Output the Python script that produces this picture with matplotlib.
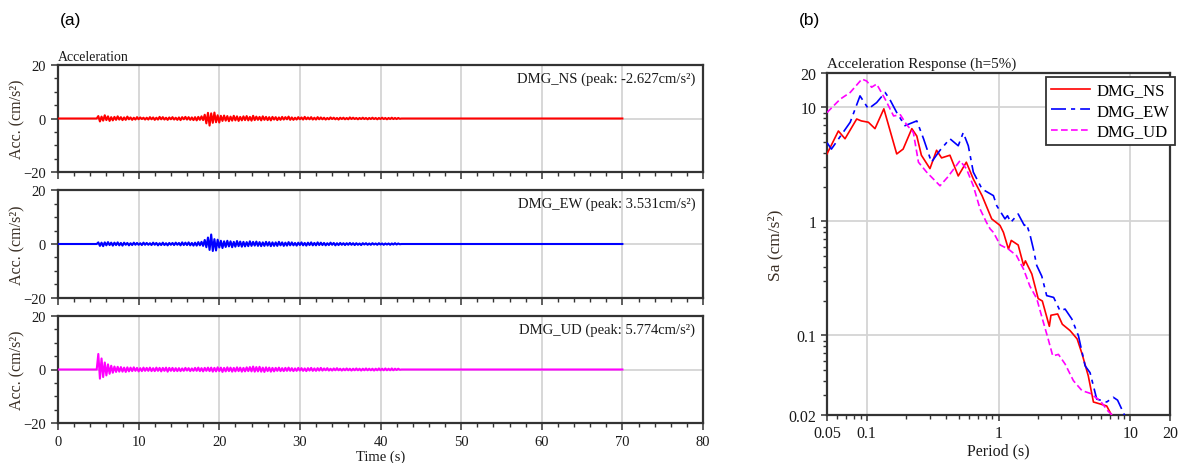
import numpy as np
import matplotlib
matplotlib.use("Agg")
import matplotlib.pyplot as plt
from matplotlib.ticker import (MultipleLocator, FixedLocator, FixedFormatter,
                               NullFormatter, LogLocator)

plt.rcParams['font.family'] = ['Liberation Serif', 'DejaVu Serif']

# ---------------- acceleration records (cm/s^2), 0.2 s step starting at 5.0 s ----------------
DT = 0.2
T_ONSET = 5.0
T_END = 70.0

acc_ns = [
    0.9, -1.1, 0.7, -0.8, 1.2, -0.6, 0.8, -0.9, 0.5, -0.7,
    0.6, -0.5, 0.8, -0.4, 0.5, -0.6, 0.4, -0.5, 0.7, -0.3,
    0.4, -0.5, 0.3, -0.4, 0.5, -0.3, 0.4, -0.2, 0.3, -0.4,
    0.3, -0.4, 0.5, -0.3, 0.4, -0.5, 0.3, -0.4, 0.6, -0.3,
    0.5, -0.4, 0.3, -0.5, 0.4, -0.3, 0.5, -0.4, 0.3, -0.5,
    0.4, -0.6, 0.5, -0.3, 0.6, -0.4, 0.5, -0.5, 0.4, -0.6,
    0.5, -0.7, 0.6, -0.5, 0.8, -0.6, 1.4, -1.8, 2.1, -2.627,
    1.9, -1.6, 2.2, -1.4, 1.2, -1.5, 1.0, -0.9, 1.1, -0.8,
    0.9, -1.0, 0.7, -0.8, 1.0, -0.7, 0.8, -0.9, 0.6, -0.7,
    0.8, -0.6, 0.9, -0.7, 0.6, -0.8, 1.0, -0.6, 0.7, -0.5,
    0.6, -0.7, 0.8, -0.5, 0.6, -0.6, 0.5, -0.7, 0.6, -0.4,
    0.5, -0.6, 0.4, -0.5, 0.6, -0.4, 0.5, -0.3, 0.7, -0.5,
    0.4, -0.5, 0.3, -0.4, 0.5, -0.3, 0.4, -0.4, 0.6, -0.3,
    0.4, -0.3, 0.5, -0.4, 0.3, -0.4, 0.5, -0.3, 0.4, -0.3,
    0.3, -0.4, 0.2, -0.3, 0.4, -0.2, 0.3, -0.3, 0.2, -0.4,
    0.3, -0.2, 0.3, -0.3, 0.2, -0.3, 0.4, -0.2, 0.3, -0.2,
    0.2, -0.3, 0.2, -0.2, 0.3, -0.2, 0.2, -0.3, 0.2, -0.2,
    0.3, -0.2, 0.2, -0.3, 0.2, -0.2, 0.3, -0.2, 0.2, -0.3,
    0.2, -0.2, 0.3, -0.2, 0.2, -0.2, 0.2, -0.1,
]

acc_ew = [
    0.6, -0.7, 0.5, -0.8, 0.6, -0.5, 0.7, -0.4, 0.5, -0.6,
    0.5, -0.4, 0.6, -0.5, 0.4, -0.6, 0.5, -0.3, 0.4, -0.5,
    0.3, -0.4, 0.5, -0.3, 0.4, -0.3, 0.3, -0.4, 0.5, -0.3,
    0.4, -0.3, 0.3, -0.4, 0.5, -0.3, 0.4, -0.5, 0.3, -0.4,
    0.5, -0.4, 0.3, -0.5, 0.4, -0.3, 0.4, -0.4, 0.5, -0.3,
    0.4, -0.5, 0.6, -0.4, 0.5, -0.4, 0.6, -0.5, 0.4, -0.6,
    0.5, -0.6, 0.7, -0.5, 0.8, -0.7, 1.5, -1.2, 2.4, -2.2,
    3.531, -2.6, 1.8, -2.4, 1.6, -1.3, 1.2, -1.5, 1.0, -1.1,
    1.2, -0.9, 1.0, -1.2, 0.8, -1.0, 1.1, -0.8, 0.9, -1.0,
    0.8, -0.9, 0.7, -0.8, 1.0, -0.7, 0.8, -0.6, 0.9, -0.7,
    0.7, -0.8, 0.6, -0.7, 0.8, -0.6, 0.7, -0.8, 0.6, -0.7,
    0.6, -0.7, 0.8, -0.5, 0.6, -0.7, 0.5, -0.6, 0.7, -0.5,
    0.6, -0.5, 0.4, -0.6, 0.5, -0.4, 0.6, -0.5, 0.4, -0.6,
    0.5, -0.4, 0.6, -0.5, 0.4, -0.5, 0.6, -0.4, 0.5, -0.4,
    0.4, -0.5, 0.3, -0.4, 0.5, -0.3, 0.4, -0.5, 0.3, -0.4,
    0.4, -0.3, 0.3, -0.4, 0.3, -0.3, 0.4, -0.3, 0.3, -0.4,
    0.3, -0.3, 0.2, -0.4, 0.3, -0.2, 0.3, -0.3, 0.2, -0.3,
    0.3, -0.2, 0.2, -0.3, 0.3, -0.2, 0.2, -0.3, 0.2, -0.2,
    0.2, -0.3, 0.2, -0.2, 0.3, -0.2, 0.2, -0.1,
]

acc_ud = [
    5.774, -3.4, 4.1, -2.8, 2.6, -2.2, 1.9, -1.6, 1.4, -1.2,
    1.1, -0.9, 1.0, -0.8, 0.9, -0.8, 0.7, -0.9, 0.8, -0.7,
    0.7, -0.6, 0.8, -0.5, 0.6, -0.7, 0.5, -0.6, 0.7, -0.5,
    0.6, -0.5, 0.7, -0.6, 0.5, -0.6, 0.7, -0.5, 0.6, -0.7,
    0.6, -0.5, 0.7, -0.8, 0.6, -0.5, 0.6, -0.6, 0.5, -0.6,
    0.5, -0.6, 0.4, -0.5, 0.6, -0.4, 0.5, -0.6, 0.4, -0.5,
    0.6, -0.5, 0.7, -0.6, 0.5, -0.7, 0.6, -0.5, 0.7, -0.6,
    0.7, -0.8, 0.6, -0.7, 0.8, -0.6, 0.7, -0.9, 0.6, -0.7,
    0.8, -0.6, 0.7, -0.8, 0.6, -0.7, 0.8, -0.6, 0.7, -0.8,
    0.6, -0.7, 0.8, -0.6, 0.9, -0.7, 1.1, -0.8, 0.9, -0.7,
    1.0, -0.8, 0.7, -0.9, 0.8, -0.6, 0.7, -0.8, 0.6, -0.7,
    0.6, -0.5, 0.7, -0.6, 0.5, -0.6, 0.6, -0.5, 0.7, -0.5,
    0.5, -0.6, 0.4, -0.5, 0.6, -0.4, 0.5, -0.5, 0.4, -0.6,
    0.5, -0.4, 0.6, -0.5, 0.4, -0.5, 0.5, -0.4, 0.6, -0.4,
    0.4, -0.3, 0.5, -0.4, 0.3, -0.4, 0.4, -0.3, 0.5, -0.3,
    0.3, -0.4, 0.3, -0.3, 0.4, -0.3, 0.3, -0.4, 0.3, -0.3,
    0.4, -0.3, 0.3, -0.4, 0.3, -0.3, 0.4, -0.3, 0.3, -0.3,
    0.3, -0.4, 0.3, -0.3, 0.4, -0.3, 0.3, -0.3, 0.4, -0.3,
    0.3, -0.3, 0.4, -0.3, 0.3, -0.2, 0.3, -0.1,
]

record_names = ["DMG_NS", "DMG_EW", "DMG_UD"]
record_peaks = ["-2.627", "3.531", "5.774"]
record_colors = ["#ff0000", "#0000ff", "#ff00ff"]
records = [acc_ns, acc_ew, acc_ud]

# ---------------- acceleration response spectra, h = 5% ----------------
period_ns = [0.05, 0.061, 0.0685, 0.084, 0.091, 0.103, 0.1156, 0.135, 0.169, 0.189,
             0.22, 0.24, 0.26, 0.302, 0.339, 0.37, 0.428, 0.495, 0.57, 0.644,
             0.75, 0.888, 1.027, 1.09, 1.19, 1.25, 1.41, 1.55, 1.6, 1.79,
             2.0, 2.15, 2.43, 2.5, 2.81, 3.05, 3.49, 3.95, 4.3, 4.8,
             5.25, 5.9, 6.62, 7.2]
sa_ns = [3.9, 6.2, 5.3, 7.9, 7.6, 7.4, 6.5, 9.7, 3.9, 4.3,
         6.5, 5.6, 3.8, 2.9, 4.2, 3.6, 3.8, 2.5, 3.3, 2.35,
         1.68, 1.05, 0.92, 0.8, 0.57, 0.68, 0.62, 0.41, 0.45, 0.345,
         0.21, 0.2, 0.12, 0.15, 0.154, 0.125, 0.11, 0.093, 0.069, 0.044,
         0.026, 0.025, 0.024, 0.02]

period_ew = [0.05, 0.054, 0.075, 0.089, 0.103, 0.119, 0.138, 0.15, 0.169, 0.195,
             0.24, 0.27, 0.31, 0.36, 0.428, 0.495, 0.54, 0.59, 0.644, 0.75,
             0.915, 0.97, 1.12, 1.17, 1.24, 1.41, 1.57, 1.63, 1.73, 1.84,
             1.95, 2.13, 2.32, 2.62, 2.93, 3.2, 3.6, 4.04, 4.54, 4.95,
             5.56, 6.62, 7.43, 8.0, 9.12]
sa_ew = [4.9, 4.3, 7.4, 12.6, 9.7, 11.0, 13.5, 11.7, 9.0, 6.9,
         7.6, 5.3, 3.3, 4.2, 5.3, 4.6, 6.0, 4.6, 2.7, 1.92,
         1.68, 1.37, 1.05, 1.12, 0.98, 1.16, 0.92, 0.95, 0.77, 0.57,
         0.41, 0.33, 0.223, 0.215, 0.164, 0.17, 0.139, 0.099, 0.054, 0.047,
         0.0276, 0.026, 0.0286, 0.027, 0.0195]

period_ud = [0.05, 0.063, 0.075, 0.092, 0.1, 0.109, 0.119, 0.138, 0.16, 0.18,
             0.2, 0.226, 0.247, 0.285, 0.36, 0.41, 0.51, 0.57, 0.644, 0.725,
             0.81, 0.863, 0.915, 1.03, 1.19, 1.37, 1.55, 1.73, 1.95, 2.19,
             2.38, 2.58, 2.85, 3.2, 3.7, 4.3, 4.95, 5.9, 6.81, 7.3]
sa_ud = [9.0, 11.8, 13.5, 17.7, 17.0, 15.0, 16.0, 11.8, 8.4, 8.6,
         7.1, 6.0, 3.3, 2.7, 2.05, 2.43, 3.4, 2.9, 2.05, 1.28,
         0.98, 0.86, 0.8, 0.62, 0.57, 0.5, 0.38, 0.27, 0.21, 0.13,
         0.093, 0.066, 0.068, 0.056, 0.04, 0.0327, 0.031, 0.0267, 0.0215, 0.02]

FRAME = "#333333"
GRID = "#d4d4d4"
TXT = "#1a1a1a"
LABEL = "#3a2f25"

W, H = 1185, 464
fig = plt.figure(figsize=(W / 100, H / 100), dpi=100)
fig.patch.set_facecolor("white")


def px_axes(x0, y0, x1, y1):
    """Axes placed by pixel box (left, top, right, bottom)."""
    return fig.add_axes([x0 / W, 1 - y1 / H, (x1 - x0) / W, (y1 - y0) / H])


def style_frame(ax, size):
    for s in ax.spines.values():
        s.set_color(FRAME)
        s.set_linewidth(1.6)
    ax.tick_params(which="both", direction="out", colors=FRAME, labelcolor=TXT,
                   top=False, right=False, labelsize=size)
    ax.tick_params(which="major", length=5, width=1.1)
    ax.tick_params(which="minor", length=3, width=1.0)


# ---------------- (a) time histories ----------------
panel_tops = [65.7, 191.2, 316.7]
panel_h = 107.6
for i, (vals, name, peak, col) in enumerate(zip(records, record_names, record_peaks, record_colors)):
    ax = px_axes(58, panel_tops[i], 703, panel_tops[i] + panel_h)
    t = T_ONSET + DT * np.arange(len(vals))
    tt = np.concatenate([[0.0, T_ONSET - DT], t, [t[-1] + DT, T_END]])
    yy = np.concatenate([[0.0, 0.0], vals, [0.0, 0.0]])
    ax.plot(tt, yy, color=col, lw=1.5, zorder=3)
    ax.set_xlim(0, 80)
    ax.set_ylim(-20, 20)
    ax.xaxis.set_major_locator(MultipleLocator(10))
    ax.xaxis.set_minor_locator(MultipleLocator(2))
    ax.yaxis.set_major_locator(MultipleLocator(20))
    ax.yaxis.set_minor_locator(MultipleLocator(5))
    ax.grid(True, which="major", color=GRID, lw=1.3, zorder=0)
    ax.set_axisbelow(True)
    style_frame(ax, 10.5)
    ax.set_ylabel("Acc. (cm/s²)", fontsize=11.5, color=LABEL, labelpad=-1.5)
    ax.text(0.988, 0.94, f"{name} (peak: {peak}cm/s²)", transform=ax.transAxes,
            ha="right", va="top", fontsize=10.5, color=TXT)
    if i < 2:
        ax.xaxis.set_major_formatter(NullFormatter())
    else:
        ax.set_xlabel("Time (s)", fontsize=10.5, color=TXT, labelpad=1)
    if i == 0:
        ax.text(0.0, 1.02, "Acceleration", transform=ax.transAxes, ha="left", va="bottom",
                fontsize=10, color=TXT)

# ---------------- (b) response spectra ----------------
axs = px_axes(827, 74, 1170, 416)
axs.plot(period_ns, sa_ns, color="#ff0000", lw=1.2, ls="-", label="DMG_NS", zorder=3)
axs.plot(period_ew, sa_ew, color="#0000ff", lw=1.2, ls=(0, (9, 3, 2.5, 3)), label="DMG_EW", zorder=3)
axs.plot(period_ud, sa_ud, color="#ff00ff", lw=1.2, ls=(0, (4, 2)), label="DMG_UD", zorder=3)
axs.set_xscale("log")
axs.set_yscale("log")
axs.set_xlim(0.05, 20)
axs.set_ylim(0.02, 20)
axs.xaxis.set_major_locator(FixedLocator([0.05, 0.1, 1, 10, 20]))
axs.xaxis.set_major_formatter(FixedFormatter(["0.05", "0.1", "1", "10", "20"]))
axs.xaxis.set_minor_locator(LogLocator(base=10, subs=np.arange(2, 10), numticks=20))
axs.xaxis.set_minor_formatter(NullFormatter())
axs.yaxis.set_major_locator(FixedLocator([0.02, 0.1, 1, 10, 20]))
axs.yaxis.set_major_formatter(FixedFormatter(["0.02", "0.1", "1", "10", "20"]))
axs.yaxis.set_minor_locator(LogLocator(base=10, subs=np.arange(2, 10), numticks=20))
axs.yaxis.set_minor_formatter(NullFormatter())
for v in [0.1, 1, 10]:
    axs.axvline(v, color=GRID, lw=1.3, zorder=0)
    axs.axhline(v, color=GRID, lw=1.3, zorder=0)
style_frame(axs, 11.5)
axs.tick_params(which="major", length=4)
axs.set_ylabel("Sa (cm/s²)", fontsize=12.5, color=LABEL, labelpad=4)
axs.set_xlabel("Period (s)", fontsize=11.5, color=TXT, labelpad=1)
axs.text(0.0, 1.008, "Acceleration Response (h=5%)", transform=axs.transAxes,
         ha="left", va="bottom", fontsize=10.9, color=TXT)
leg = axs.legend(loc="upper right", bbox_to_anchor=(1.015, 0.988), borderaxespad=0,
                 fontsize=12, frameon=True, fancybox=False, handlelength=2.35,
                 handletextpad=0.4, labelspacing=0.27, borderpad=0.32)
leg.get_frame().set_edgecolor(FRAME)
leg.get_frame().set_linewidth(1.3)
leg.get_frame().set_alpha(1)

# panel letters
fig.text(60 / W, 1 - 20 / H, "(a)", family=["Liberation Sans", "DejaVu Sans"], fontsize=12.5,
         ha="left", va="center", color="black")
fig.text(799 / W, 1 - 20 / H, "(b)", family=["Liberation Sans", "DejaVu Sans"], fontsize=12.5,
         ha="left", va="center", color="black")

fig.savefig("out.png", dpi=100, facecolor="white")
